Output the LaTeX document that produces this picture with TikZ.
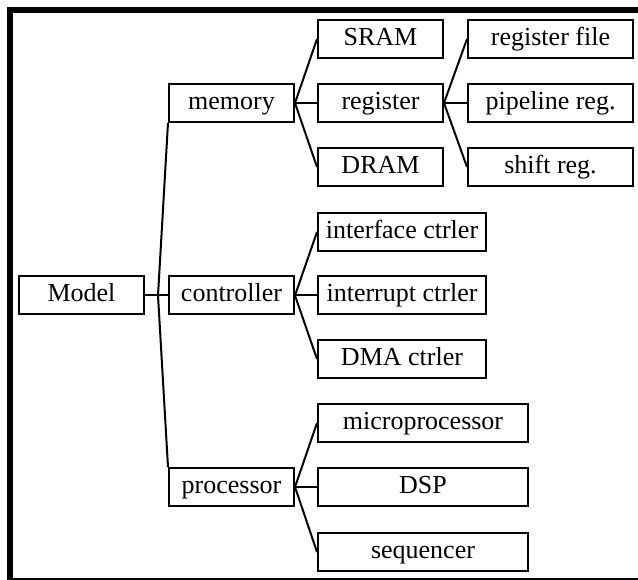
\documentclass[tikz,border=0pt]{standalone}
\usepackage{fontspec}
\setmainfont{Liberation Serif}
\begin{document}
\begin{tikzpicture}[x=1pt,y=-1pt,
  box/.style={draw,line width=2pt,inner sep=0pt,minimum height=38pt,
    font=\fontsize{26}{30}\selectfont,text height=18pt,text depth=5pt},
  conn/.style={line width=2pt}]
\useasboundingbox (0,0) rectangle (638,580);
% frame
\fill (7,7) rectangle (638,13);
\fill (7,7) rectangle (13,580);
\fill (7,578) rectangle (638,580);
% level 0
\node[box,minimum width=125pt] (model) at (81.5,295.5) {Model};
% level 1
\node[box,minimum width=125pt] (memory) at (231.5,103) {memory};
\node[box,minimum width=125pt] (controller) at (231.5,295.5) {controller};
\node[box,minimum width=125pt] (processor) at (231.5,487) {processor};
% level 2
\node[box,minimum width=125pt] (sram) at (380.5,39) {SRAM};
\node[box,minimum width=125pt] (register) at (380.5,103) {register};
\node[box,minimum width=125pt] (dram) at (380.5,167) {DRAM};
\node[box,minimum width=168pt] (iface) at (402,232) {interface ctrler};
\node[box,minimum width=168pt] (irq) at (402,295.5) {interrupt ctrler};
\node[box,minimum width=168pt] (dma) at (402,359) {DMA ctrler};
\node[box,minimum width=210pt] (micro) at (423,423) {microprocessor};
\node[box,minimum width=210pt] (dsp) at (423,487) {DSP};
\node[box,minimum width=210pt] (seq) at (423,552) {sequencer};
% level 3
\node[box,minimum width=165pt] (rfile) at (550.5,39) {register file};
\node[box,minimum width=165pt] (pipe) at (550.5,103) {pipeline reg.};
\node[box,minimum width=165pt] (shift) at (550.5,167) {shift reg.};
% connectors
\coordinate (fork) at (158,295.5);
\draw[conn] (model.east) -- (controller.west);
\draw[conn] (fork) -- (memory.south west);
\draw[conn] (fork) -- (processor.north west);
\foreach \c in {sram,register,dram} \draw[conn] (memory.east) -- (\c.west);
\foreach \c in {iface,irq,dma} \draw[conn] (controller.east) -- (\c.west);
\foreach \c in {micro,dsp,seq} \draw[conn] (processor.east) -- (\c.west);
\foreach \c in {rfile,pipe,shift} \draw[conn] (register.east) -- (\c.west);
\end{tikzpicture}
\end{document}
